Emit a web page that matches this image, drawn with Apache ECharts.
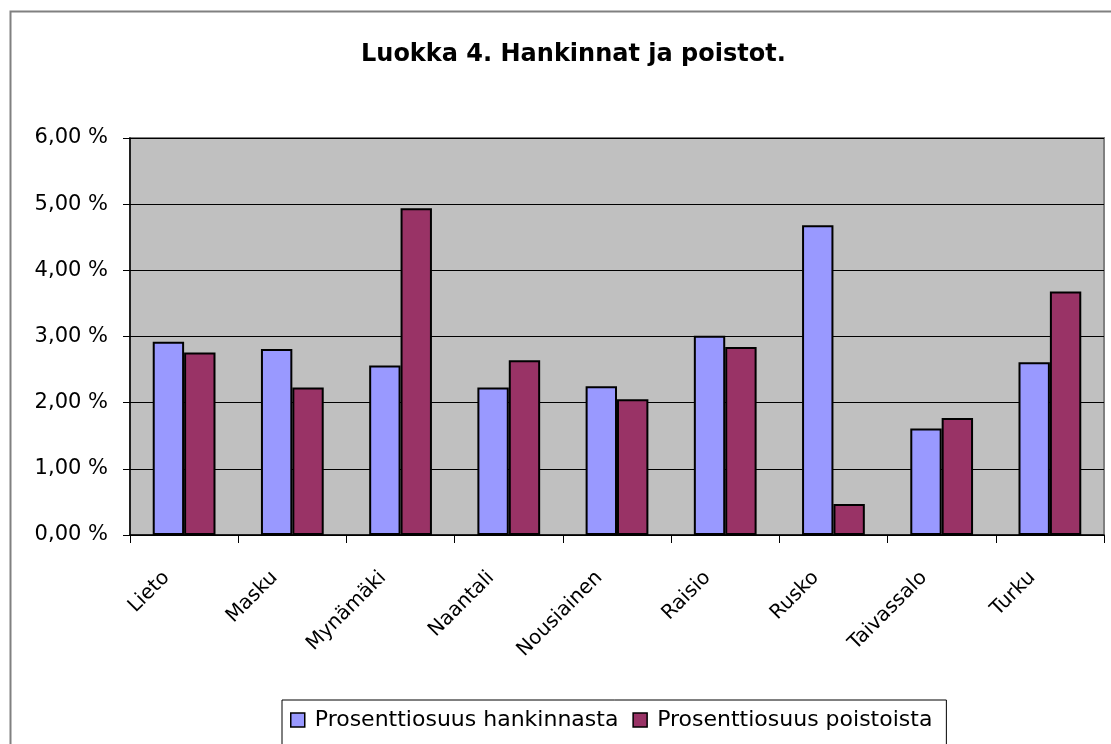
<!DOCTYPE html>
<html>
<head>
<meta charset="utf-8">
<script src="https://cdn.jsdelivr.net/npm/echarts@6/dist/echarts.min.js"></script>
<style>
  html, body { margin: 0; padding: 0; background: #fff; }
  #chart { width: 1111px; height: 744px; }
</style>
</head>
<body>
<div id="chart"></div>
<script>
// kunnat
var categories = ['Lieto', 'Masku', 'Mynämäki', 'Naantali', 'Nousiainen', 'Raisio', 'Rusko', 'Taivassalo', 'Turku']
// prosentteina
var hankinnat = [2.92, 2.81, 2.56, 2.23, 2.25, 3.01, 4.68, 1.61, 2.61]
var poistot = [2.76, 2.23, 4.94, 2.64, 2.05, 2.84, 0.47, 1.77, 3.68]
var yTicks = [0, 1, 2, 3, 4, 5, 6]

var font = '"DejaVu Sans", "Liberation Sans", Arial, sans-serif'
var fmt = function (v) { return v.toFixed(2).replace('.', ',') + ' %' }

var chart = echarts.init(document.getElementById('chart'))
chart.setOption({
  animation: false,
  textStyle: { fontFamily: font },
  title: {
    text: 'Luokka 4. Hankinnat ja poistot.',
    left: 356,
    top: 38,
    textStyle: { fontSize: 24, fontWeight: 'bold', color: '#000', fontFamily: font }
  },
  graphic: [{
    type: 'rect',
    shape: { x: 10.5, y: 11.5, width: 1120, height: 760 },
    style: { fill: 'none', stroke: '#808080', lineWidth: 2 },
    z: -10
  }],
  legend: {
    left: 282,
    top: 700,
    itemWidth: 14,
    itemHeight: 14,
    itemGap: 14,
    padding: [9, 14, 14, 8],
    borderColor: '#000',
    borderWidth: 1,
    backgroundColor: '#fff',
    textStyle: { fontSize: 22, color: '#000', fontFamily: font, padding: [0, 0, 0, 5] },
    data: [
      { name: 'Prosenttiosuus hankinnasta', icon: 'rect', itemStyle: { borderColor: '#000', borderWidth: 1.5 } },
      { name: 'Prosenttiosuus poistoista', icon: 'rect', itemStyle: { borderColor: '#000', borderWidth: 1.5 } }
    ]
  },
  grid: {
    left: 130,
    right: 7,
    top: 138,
    bottom: 209,
    show: true,
    backgroundColor: '#C0C0C0',
    borderColor: '#808080',
    borderWidth: 2
  },
  xAxis: {
    type: 'category',
    data: categories,
    axisLine: { lineStyle: { color: '#000', width: 1.5 } },
    axisTick: { show: true, length: 8, lineStyle: { color: '#000' } },
    axisLabel: { rotate: 45, fontSize: 20, color: '#000', margin: 22, padding: [0, 25, 0, 0], fontFamily: font }
  },
  yAxis: {
    type: 'value',
    min: yTicks[0],
    max: yTicks[yTicks.length - 1],
    interval: 1,
    axisLine: { show: true, lineStyle: { color: '#000', width: 1.5 } },
    axisTick: { show: true, length: 7, lineStyle: { color: '#000' } },
    splitLine: { lineStyle: { color: '#000', width: 1 } },
    axisLabel: { fontSize: 21, color: '#000', margin: 22, formatter: fmt, fontFamily: font }
  },
  series: [
    {
      name: 'Prosenttiosuus hankinnasta',
      type: 'bar',
      data: hankinnat,
      barGap: '0%',
      barCategoryGap: '42%',
      itemStyle: { color: '#9999FF', borderColor: '#000', borderWidth: 2 }
    },
    {
      name: 'Prosenttiosuus poistoista',
      type: 'bar',
      data: poistot,
      barGap: '0%',
      barCategoryGap: '42%',
      itemStyle: { color: '#993366', borderColor: '#000', borderWidth: 2 }
    }
  ]
})
</script>
</body>
</html>
